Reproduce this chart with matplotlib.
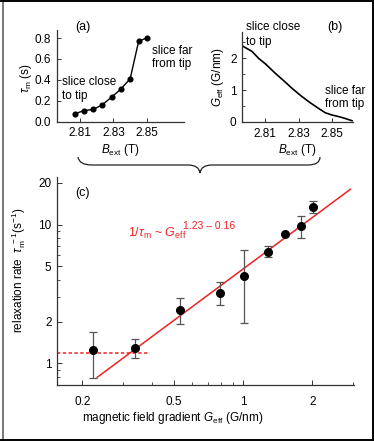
import matplotlib
matplotlib.use("Agg")
import matplotlib.pyplot as plt
import numpy as np
from matplotlib.path import Path
from matplotlib.patches import PathPatch
from matplotlib.lines import Line2D
from matplotlib.ticker import FixedLocator, NullFormatter, FixedFormatter

plt.rcParams['font.family'] = ['Liberation Sans', 'DejaVu Sans']
plt.rcParams['mathtext.fontset'] = 'custom'
plt.rcParams['mathtext.rm'] = 'Liberation Sans'
plt.rcParams['mathtext.it'] = 'Liberation Sans:italic'
plt.rcParams['mathtext.sf'] = 'Liberation Sans'

# ---- data ----
# (a) relaxation time vs external field
a_B = [2.807, 2.8124, 2.818, 2.8233, 2.829, 2.8343, 2.840, 2.845, 2.850]
a_tau = [0.076, 0.105, 0.118, 0.160, 0.236, 0.309, 0.411, 0.768, 0.803]
a_xticks = [2.81, 2.83, 2.85]
a_yticks = [0.0, 0.2, 0.4, 0.6, 0.8]

# (b) effective gradient vs external field
b_B = [2.796, 2.802, 2.806, 2.810, 2.816, 2.821, 2.826, 2.831, 2.836, 2.841,
       2.846, 2.850, 2.854, 2.858, 2.862]
b_G = [2.40, 2.22, 2.00, 1.83, 1.53, 1.30, 1.06, 0.84, 0.64, 0.46,
       0.29, 0.22, 0.17, 0.11, 0.04]
b_xticks = [2.81, 2.83, 2.85]
b_yticks = [0, 1, 2]

# (c) relaxation rate vs gradient
c_G = [0.223, 0.340, 0.533, 0.794, 1.01, 1.28, 1.52, 1.78, 2.01]
c_rate = [1.25, 1.30, 2.42, 3.24, 4.27, 6.35, 8.62, 9.77, 13.4]
c_err_hi = [1.69, 1.50, 2.96, 3.86, 6.53, 6.98, 8.62, 11.5, 14.8]
c_err_lo = [0.79, 1.09, 1.91, 2.63, 1.97, 5.85, 8.62, 8.01, 12.1]
fit_amp = 4.8
fit_exp = 1.23
fit_range = [0.232, 2.92]
floor_rate = 1.19
floor_range = [0.155, 0.392]
c_xticks = [0.2, 0.5, 1, 2]
c_xlabels = ['0.2', '0.5', '1', '2']
c_yticks = [1, 2, 5, 10, 20]
c_ylabels = ['1', '2', '5', '10', '20']

W, H = 374, 441
fig = plt.figure(figsize=(W / 100, H / 100), dpi=100)

def fx(px):
    return px / W

def fy(py):
    return 1 - py / H

spine_col = '#333333'
fs = 8.5

def style(ax):
    for s in ['top', 'right']:
        ax.spines[s].set_visible(False)
    for s in ['left', 'bottom']:
        ax.spines[s].set_color(spine_col)
        ax.spines[s].set_linewidth(0.9)
    ax.tick_params(which='major', direction='in', length=3, width=0.7,
                   color=spine_col, labelsize=fs, pad=4)
    ax.tick_params(which='minor', direction='in', length=2, width=0.6,
                   color=spine_col)

# ---- (a) ----
axa = fig.add_axes([fx(56.7), fy(121.7), fx(184 - 56.7), (121.7 - 30) / H])
style(axa)
axa.plot(a_B, a_tau, '-o', color='black', lw=1.0, ms=3.4)
axa.set_xlim(2.7963, 2.872)
axa.set_ylim(0, 0.877)
axa.set_xticks(a_xticks)
axa.set_xticklabels(['2.81', '2.83', '2.85'])
axa.set_yticks(a_yticks)
axa.set_yticklabels(['0.0', '0.2', '0.4', '0.6', '0.8'])
axa.set_xlabel(r'$B_{\rm ext}$ (T)', fontsize=fs, labelpad=2)

# ---- (b) ----
axb = fig.add_axes([fx(242), fy(122), fx(353 - 242), (122 - 32) / H])
style(axb)
axb.plot(b_B, b_G, '-', color='black', lw=1.2)
axb.set_xlim(2.796, 2.8626)
axb.set_ylim(0, 2.83)
axb.set_xticks(b_xticks)
axb.set_xticklabels(['2.81', '2.83', '2.85'])
axb.set_yticks(b_yticks)
axb.yaxis.set_minor_locator(FixedLocator([0.5, 1.5, 2.5]))
axb.set_xlabel(r'$B_{\rm ext}$ (T)', fontsize=fs, labelpad=2)
axb.set_ylabel(r'$G_{\rm eff}$ (G/nm)', fontsize=fs, labelpad=3)

# ---- (c) ----
axc = fig.add_axes([fx(57), fy(385), fx(354 - 57), (385 - 177) / H])
style(axc)
axc.set_xscale('log')
axc.set_yscale('log')
axc.set_xlim(0.155, 3.03)
axc.set_ylim(0.70, 22)
yerr = [np.array(c_rate) - np.array(c_err_lo), np.array(c_err_hi) - np.array(c_rate)]
axc.errorbar(c_G, c_rate, yerr=yerr, fmt='o', color='black', ms=5.5,
             ecolor='#555555', elinewidth=0.9, capsize=3, capthick=0.9, zorder=3)
gx = np.array(fit_range)
axc.plot(gx, fit_amp * gx ** fit_exp, '-', color='#ee2222', lw=1.1, zorder=2)
axc.plot(floor_range, [floor_rate, floor_rate], '--', dashes=(2.2, 1.6),
         color='#ee2222', lw=1.1, zorder=2)
axc.xaxis.set_major_locator(FixedLocator(c_xticks))
axc.xaxis.set_major_formatter(FixedFormatter(c_xlabels))
axc.xaxis.set_minor_locator(FixedLocator([0.3, 0.4, 0.6, 0.7, 0.8, 0.9, 3]))
axc.xaxis.set_minor_formatter(NullFormatter())
axc.yaxis.set_major_locator(FixedLocator(c_yticks))
axc.yaxis.set_major_formatter(FixedFormatter(c_ylabels))
axc.yaxis.set_minor_locator(FixedLocator([0.8, 0.9, 3, 4, 6, 7, 8, 9]))
axc.yaxis.set_minor_formatter(NullFormatter())
axc.tick_params(which='major', length=3.5)
axc.tick_params(axis='x', pad=8)

# ---- texts (figure pixel positions) ----
def t(px, py, s, **kw):
    fig.text(fx(px), fy(py), s, **kw)

t(26.5, 78, r'$\tau_{\rm m}$ (s)', fontsize=fs, rotation=90, ha='center', va='center')
t(83, 27, '(a)', fontsize=9, ha='center', va='center')
t(62.5, 82, 'slice close', fontsize=fs, ha='left', va='center')
t(62.5, 96, 'to tip', fontsize=fs, ha='left', va='center')
t(152, 50.5, 'slice far', fontsize=fs, ha='left', va='center')
t(152, 63.5, 'from tip', fontsize=fs, ha='left', va='center')

t(246.5, 27, 'slice close', fontsize=fs, ha='left', va='center')
t(246.5, 42, 'to tip', fontsize=fs, ha='left', va='center')
t(335, 27, '(b)', fontsize=9, ha='center', va='center')
t(325, 91, 'slice far', fontsize=fs, ha='left', va='center')
t(325, 104, 'from tip', fontsize=fs, ha='left', va='center')

t(83, 193, '(c)', fontsize=9, ha='center', va='center')
t(128, 233, r'1/$\tau_{\rm m}$ ~ $G_{\rm eff}$', fontsize=9, color='#ee2222',
  ha='left', va='center')
t(183, 226, '1.23 – 0.16', fontsize=7.5, color='#ee2222', ha='left', va='center')

t(19, 270, r'relaxation rate  $\tau_{\rm m}^{\ -1}$(s$^{-1}$)', fontsize=fs,
  rotation=90, ha='center', va='center')
t(173, 418, r'magnetic field gradient $G_{\rm eff}$ (G/nm)', fontsize=fs,
  ha='center', va='center')

# ---- brace ----
def P(px, py):
    return (fx(px), fy(py))

verts = [P(78, 157), P(79, 165), P(92, 165),
         P(188, 165),
         P(199, 165), P(200, 173),
         P(201, 165), P(212, 165),
         P(308, 165),
         P(320, 165), P(320, 157)]
codes = [Path.MOVETO, Path.CURVE3, Path.CURVE3,
         Path.LINETO,
         Path.CURVE3, Path.CURVE3,
         Path.CURVE3, Path.CURVE3,
         Path.LINETO,
         Path.CURVE3, Path.CURVE3]
brace = PathPatch(Path(verts, codes), facecolor='none', edgecolor='#222222',
                  lw=0.9, transform=fig.transFigure)
fig.add_artist(brace)

# ---- frame ----
fig.add_artist(Line2D([fx(2.5), fx(2.5)], [0, 1], color='#777777', lw=1.4,
                      transform=fig.transFigure))
fig.add_artist(Line2D([0, 1], [fy(0.5), fy(0.5)], color='black', lw=1.4,
                      transform=fig.transFigure))
fig.add_artist(Line2D([fx(372.5), fx(372.5)], [0, 1], color='black', lw=1.4,
                      transform=fig.transFigure))
fig.add_artist(Line2D([0, 1], [fy(440.3), fy(440.3)], color='black', lw=1.4,
                      transform=fig.transFigure))

fig.savefig('out.png', dpi=100)
